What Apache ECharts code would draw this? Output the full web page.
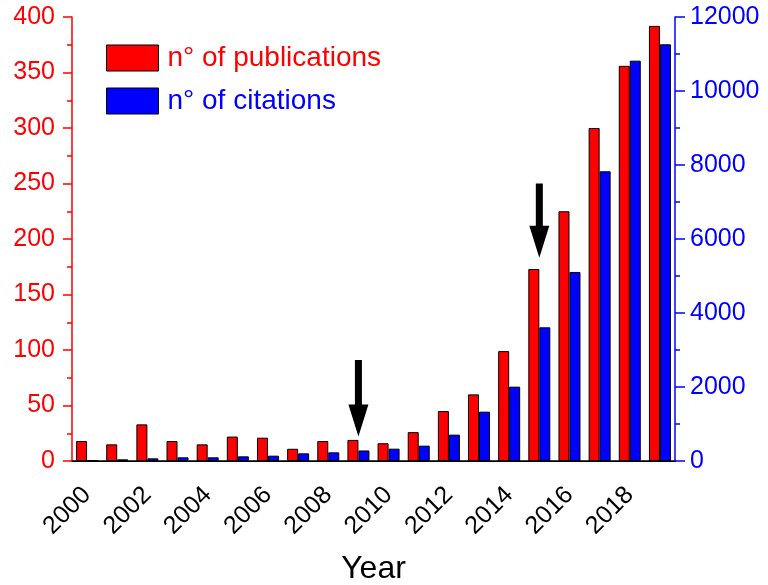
<!DOCTYPE html>
<html>
<head>
<meta charset="utf-8">
<script src="https://cdn.jsdelivr.net/npm/echarts@6/dist/echarts.min.js"></script>
<style>
html,body{margin:0;padding:0;background:#fff;}
#chart{width:768px;height:585px;}
</style>
</head>
<body>
<div id="chart"></div>
<script>
var years = ['2000','2001','2002','2003','2004','2005','2006','2007','2008','2009','2010','2011','2012','2013','2014','2015','2016','2017','2018','2019'];
var publications = [18,15,33,18,15,22,21,11,18,19,16,26,45,60,99,173,225,300,356,392];
var citations = [20,45,72,100,100,126,144,207,234,285,333,414,712,1333,2009,3613,5109,7830,10820,11262];
// arrows: [category index, top value, tip value] in publications units
var arrows = [[9,91,22],[15,250,183]];
var pubTicks = {min:0,max:400,interval:50};
var citTicks = {min:0,max:12000,interval:2000};

var FONT = "'Liberation Sans', Arial, sans-serif";
var chart = echarts.init(document.getElementById('chart'));
chart.setOption({
  animation:false,
  backgroundColor:'#fff',
  textStyle:{fontFamily:FONT},
  grid:{left:72,right:93,top:17,bottom:124,containLabel:false,outerBoundsMode:'none'},
  legend:{
    orient:'vertical',left:101,top:39,itemWidth:52,itemHeight:26,itemGap:15,
    icon:'rect',
    itemStyle:{borderColor:'#000',borderWidth:1},
    textStyle:{fontSize:28,fontFamily:FONT,padding:[0,0,0,4]},
    data:[
      {name:'n° of publications',textStyle:{color:'#ff0000'}},
      {name:'n° of citations',textStyle:{color:'#0000ff'}}
    ]
  },
  xAxis:[{
    type:'category',data:years,position:'bottom',
    axisLine:{lineStyle:{color:'#000',width:1}},
    axisTick:{alignWithLabel:true,interval:0,length:11,lineStyle:{color:'#000',width:1.5}},
    axisLabel:{interval:1,rotate:45,fontSize:25,color:'#000',margin:30,fontFamily:FONT},
    name:'Year',nameLocation:'middle',nameGap:92,
    nameTextStyle:{fontSize:32,color:'#000',fontFamily:FONT}
  },{
    type:'category',data:years,position:'top',
    axisLine:{lineStyle:{color:'#000',width:1.5}},
    axisTick:{alignWithLabel:true,interval:0,inside:true,length:3,lineStyle:{color:'#555'}},
    axisLabel:{show:false}
  }],
  yAxis:[{
    type:'value',position:'left',min:pubTicks.min,max:pubTicks.max,interval:pubTicks.interval,
    axisLine:{show:true,lineStyle:{color:'#ff0000',width:1.5}},
    axisTick:{show:true,length:9,lineStyle:{color:'#ff0000',width:1.5}},
    minorTick:{show:true,splitNumber:2,length:5,lineStyle:{color:'#ff0000',width:1.5}},
    splitLine:{show:false},
    axisLabel:{color:'#ff0000',fontSize:25,margin:17,fontFamily:FONT}
  },{
    type:'value',position:'right',min:citTicks.min,max:citTicks.max,interval:citTicks.interval,
    axisLine:{show:true,lineStyle:{color:'#0000ff',width:1.5}},
    axisTick:{show:true,length:10,lineStyle:{color:'#0000ff',width:1.5}},
    minorTick:{show:true,splitNumber:2,length:5,lineStyle:{color:'#0000ff',width:1.5}},
    splitLine:{show:false},
    axisLabel:{color:'#0000ff',fontSize:25,margin:15,fontFamily:FONT,formatter:function(v){return String(v);}}
  }],
  series:[{
    name:'n° of publications',type:'bar',xAxisIndex:0,yAxisIndex:0,data:publications,
    barWidth:11,barGap:'0%',
    itemStyle:{color:'#ff0000',borderColor:'#000',borderWidth:1}
  },{
    name:'n° of citations',type:'bar',xAxisIndex:0,yAxisIndex:1,data:citations,
    barWidth:11,barGap:'0%',
    itemStyle:{color:'#0000ff',borderColor:'#000',borderWidth:1}
  },{
    name:'arrows',type:'custom',xAxisIndex:0,yAxisIndex:0,data:arrows,silent:true,z:10,
    renderItem:function(params,api){
      var top = api.coord([api.value(0),api.value(1)]);
      var tip = api.coord([api.value(0),api.value(2)]);
      var x = tip[0], sw = 3.5, hw = 10, hh = 32;
      return {type:'polygon',shape:{points:[
        [x-sw,top[1]],[x+sw,top[1]],[x+sw,tip[1]-hh],[x+hw,tip[1]-hh],[x,tip[1]],[x-hw,tip[1]-hh],[x-sw,tip[1]-hh]
      ]},style:{fill:'#000'}};
    }
  }]
});
</script>
</body>
</html>
